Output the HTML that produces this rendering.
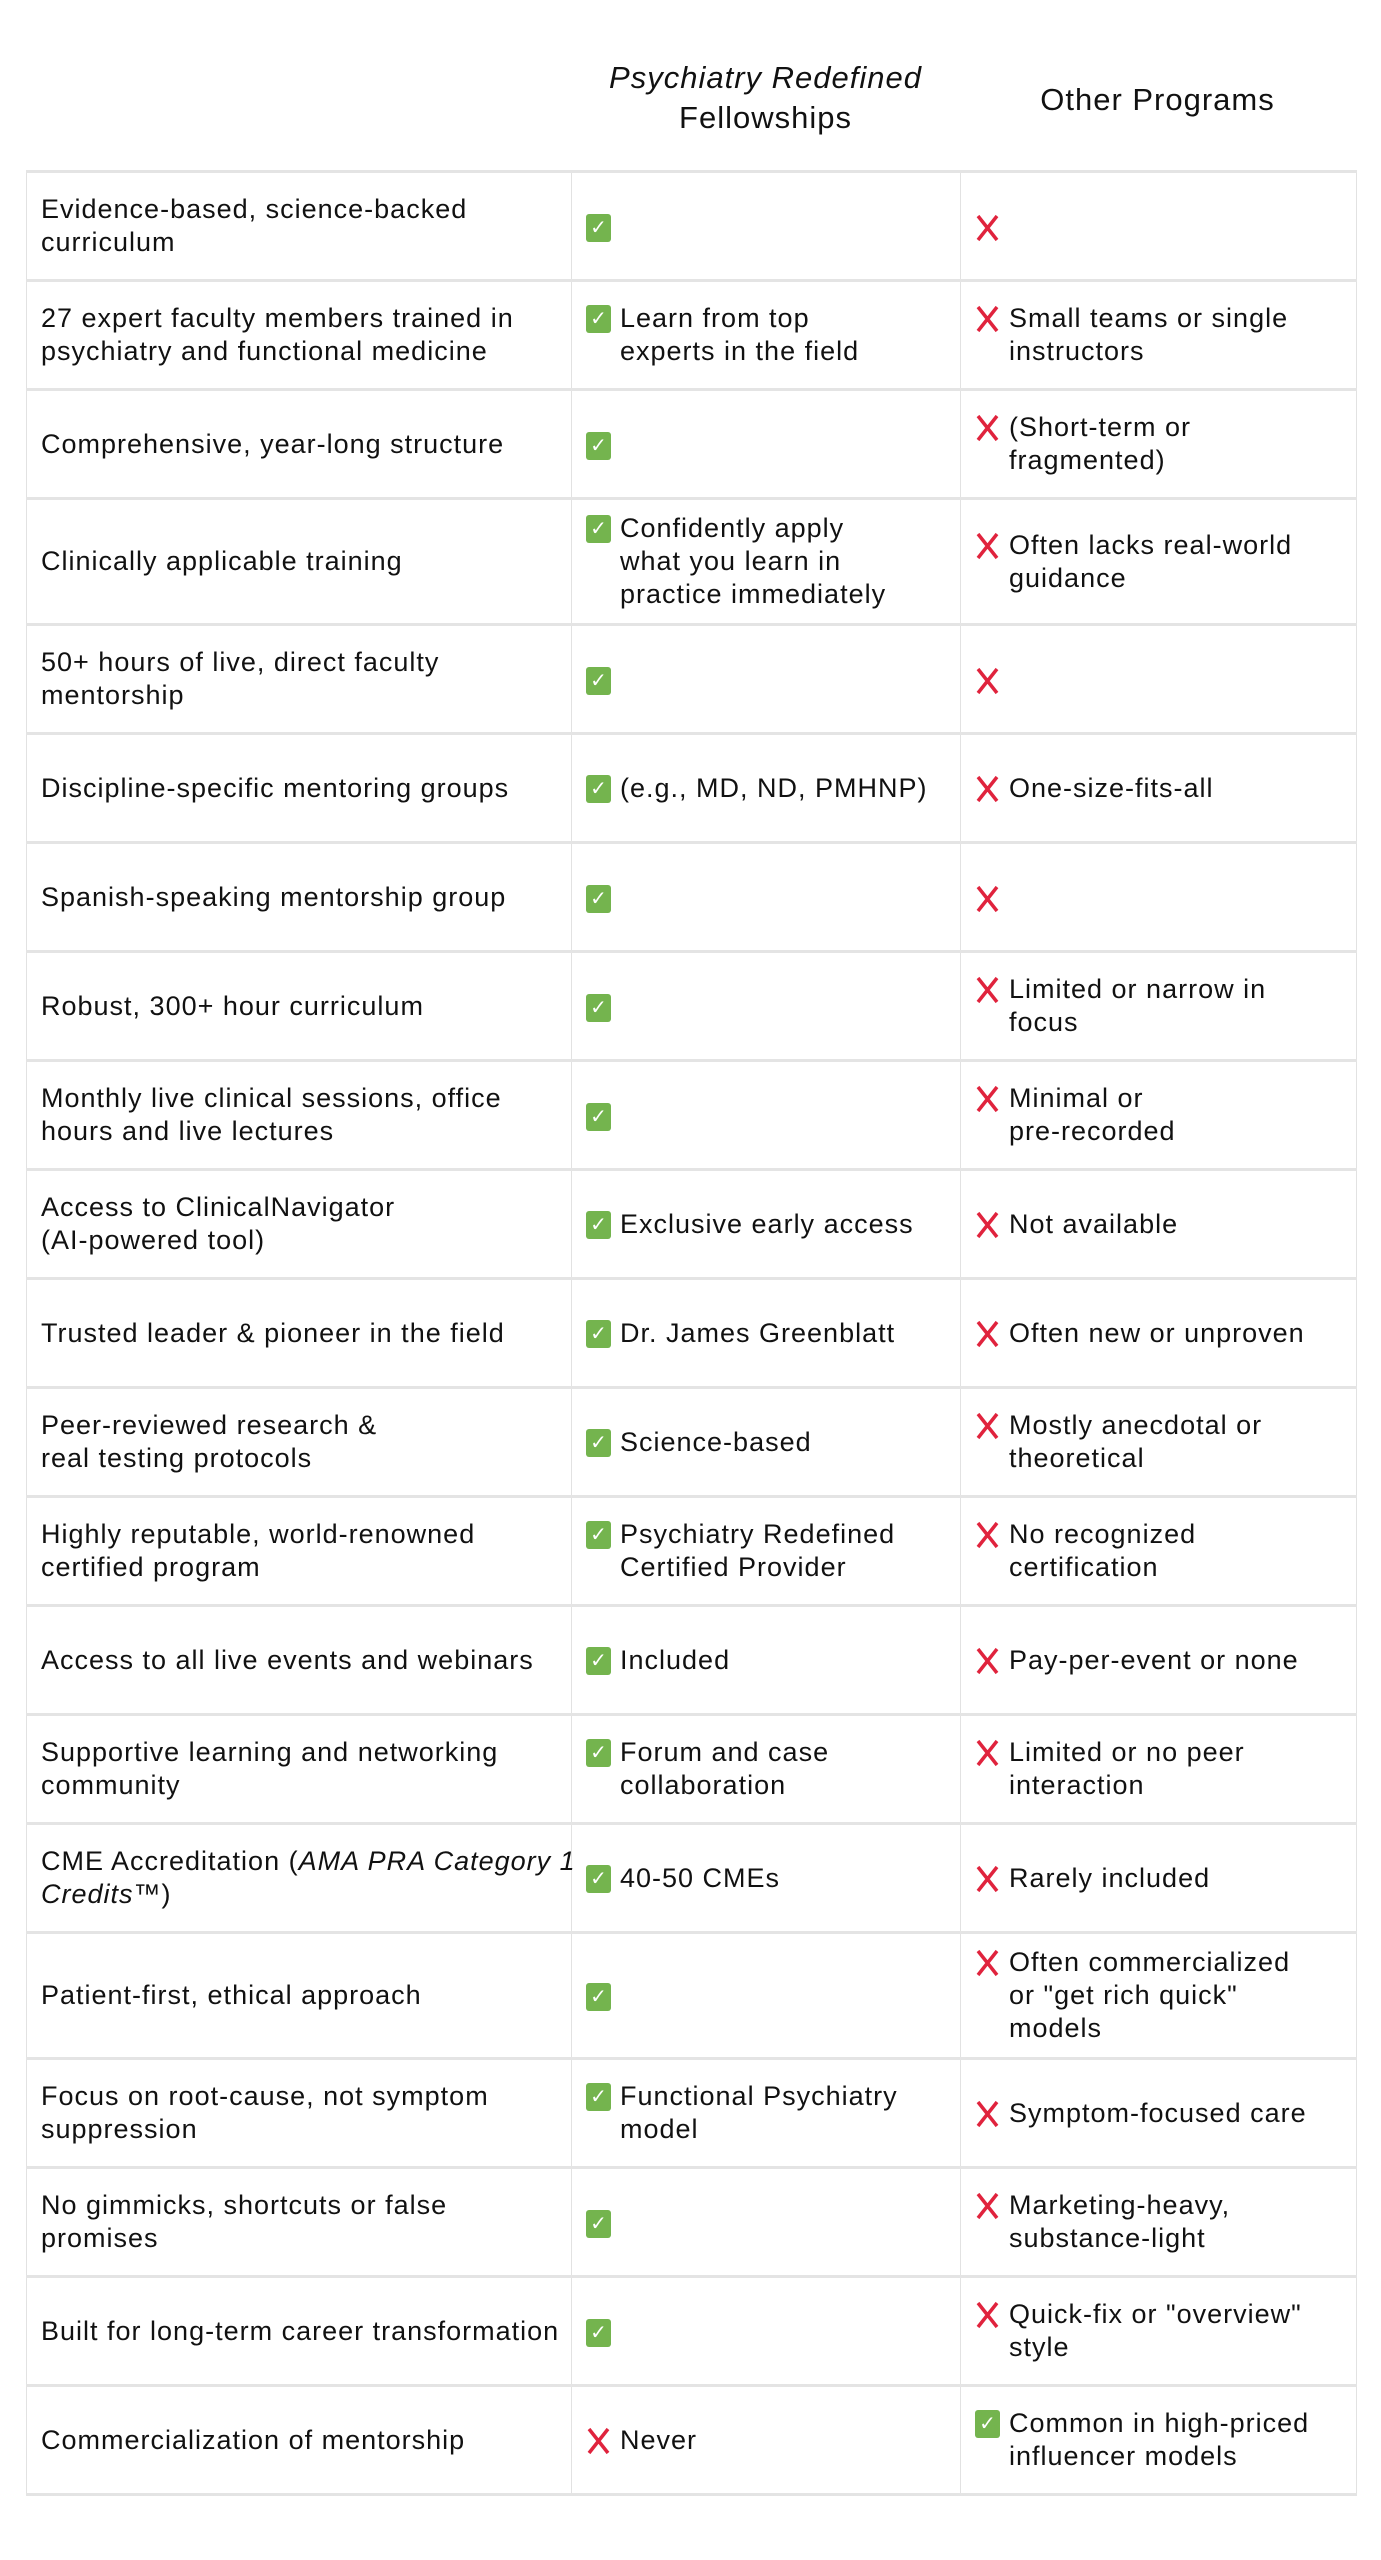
<!DOCTYPE html>
<html><head><meta charset="utf-8"><style>
html,body{margin:0;padding:0;background:#fff;}
body{width:1381px;height:2560px;position:relative;font-family:"Liberation Sans",sans-serif;color:#111;letter-spacing:1px;}
.h{position:absolute;text-align:center;font-size:31px;line-height:40px;}
table{position:absolute;left:26px;top:170px;width:1330px;border-collapse:collapse;table-layout:fixed;}
td{border-left:1px solid #e2e2e2;border-right:1px solid #e2e2e2;border-top:3px solid #e4e4e4;border-bottom:3px solid #e4e4e4;font-size:27px;line-height:33px;vertical-align:middle;padding:0 8px 0 14px;height:106px;white-space:nowrap;}
tr.t td{height:123px;}
.c{display:flex;align-items:flex-start;}
.i{flex:0 0 34px;padding-top:3px;line-height:0;}
.ck{display:inline-block;width:25px;height:28px;background:#74b44e;border-radius:3px;color:#fff;font-size:20px;line-height:28px;text-align:center;letter-spacing:0;}
.x{display:inline-block;width:25px;height:28px;vertical-align:top;}
i{font-style:italic;}
</style></head><body>
<svg width="0" height="0" style="position:absolute"><defs><symbol id="x" viewBox="0 0 25 28"><path d="M3 2L22 26M22 2L3 26" stroke="#e0233d" stroke-width="3.5" fill="none"/></symbol></defs></svg>
<div class="h" style="left:571px;width:389px;top:58px;"><i>Psychiatry Redefined</i><br>Fellowships</div>
<div class="h" style="left:960px;width:395px;top:80px;">Other Programs</div>
<table>
<colgroup><col style="width:545px"><col style="width:389px"><col style="width:396px"></colgroup>
<tr><td>Evidence-based, science-backed<br>curriculum</td><td><div class="c"><span class="i"><span class="ck">✓</span></span></div></td><td><div class="c"><span class="i"><svg class="x"><use href="#x"/></svg></span></div></td></tr>
<tr><td>27 expert faculty members trained in<br>psychiatry and functional medicine</td><td><div class="c"><span class="i"><span class="ck">✓</span></span><span>Learn from top<br>experts in the field</span></div></td><td><div class="c"><span class="i"><svg class="x"><use href="#x"/></svg></span><span>Small teams or single<br>instructors</span></div></td></tr>
<tr><td>Comprehensive, year-long structure</td><td><div class="c"><span class="i"><span class="ck">✓</span></span></div></td><td><div class="c"><span class="i"><svg class="x"><use href="#x"/></svg></span><span>(Short-term or<br>fragmented)</span></div></td></tr>
<tr class="t"><td>Clinically applicable training</td><td><div class="c"><span class="i"><span class="ck">✓</span></span><span>Confidently apply<br>what you learn in<br>practice immediately</span></div></td><td><div class="c"><span class="i"><svg class="x"><use href="#x"/></svg></span><span>Often lacks real-world<br>guidance</span></div></td></tr>
<tr><td>50+ hours of live, direct faculty<br>mentorship</td><td><div class="c"><span class="i"><span class="ck">✓</span></span></div></td><td><div class="c"><span class="i"><svg class="x"><use href="#x"/></svg></span></div></td></tr>
<tr><td>Discipline-specific mentoring groups</td><td><div class="c"><span class="i"><span class="ck">✓</span></span><span>(e.g., MD, ND, PMHNP)</span></div></td><td><div class="c"><span class="i"><svg class="x"><use href="#x"/></svg></span><span>One-size-fits-all</span></div></td></tr>
<tr><td>Spanish-speaking mentorship group</td><td><div class="c"><span class="i"><span class="ck">✓</span></span></div></td><td><div class="c"><span class="i"><svg class="x"><use href="#x"/></svg></span></div></td></tr>
<tr><td>Robust, 300+ hour curriculum</td><td><div class="c"><span class="i"><span class="ck">✓</span></span></div></td><td><div class="c"><span class="i"><svg class="x"><use href="#x"/></svg></span><span>Limited or narrow in<br>focus</span></div></td></tr>
<tr><td>Monthly live clinical sessions, office<br>hours and live lectures</td><td><div class="c"><span class="i"><span class="ck">✓</span></span></div></td><td><div class="c"><span class="i"><svg class="x"><use href="#x"/></svg></span><span>Minimal or<br>pre-recorded</span></div></td></tr>
<tr><td>Access to ClinicalNavigator<br>(AI-powered tool)</td><td><div class="c"><span class="i"><span class="ck">✓</span></span><span>Exclusive early access</span></div></td><td><div class="c"><span class="i"><svg class="x"><use href="#x"/></svg></span><span>Not available</span></div></td></tr>
<tr><td>Trusted leader &amp; pioneer in the field</td><td><div class="c"><span class="i"><span class="ck">✓</span></span><span>Dr. James Greenblatt</span></div></td><td><div class="c"><span class="i"><svg class="x"><use href="#x"/></svg></span><span>Often new or unproven</span></div></td></tr>
<tr><td>Peer-reviewed research &amp;<br>real testing protocols</td><td><div class="c"><span class="i"><span class="ck">✓</span></span><span>Science-based</span></div></td><td><div class="c"><span class="i"><svg class="x"><use href="#x"/></svg></span><span>Mostly anecdotal or<br>theoretical</span></div></td></tr>
<tr><td>Highly reputable, world-renowned<br>certified program</td><td><div class="c"><span class="i"><span class="ck">✓</span></span><span>Psychiatry Redefined<br>Certified Provider</span></div></td><td><div class="c"><span class="i"><svg class="x"><use href="#x"/></svg></span><span>No recognized<br>certification</span></div></td></tr>
<tr><td>Access to all live events and webinars</td><td><div class="c"><span class="i"><span class="ck">✓</span></span><span>Included</span></div></td><td><div class="c"><span class="i"><svg class="x"><use href="#x"/></svg></span><span>Pay-per-event or none</span></div></td></tr>
<tr><td>Supportive learning and networking<br>community</td><td><div class="c"><span class="i"><span class="ck">✓</span></span><span>Forum and case<br>collaboration</span></div></td><td><div class="c"><span class="i"><svg class="x"><use href="#x"/></svg></span><span>Limited or no peer<br>interaction</span></div></td></tr>
<tr><td>CME Accreditation (<i>AMA PRA Category 1</i><br><i>Credits</i>™)</td><td><div class="c"><span class="i"><span class="ck">✓</span></span><span>40-50 CMEs</span></div></td><td><div class="c"><span class="i"><svg class="x"><use href="#x"/></svg></span><span>Rarely included</span></div></td></tr>
<tr class="t"><td>Patient-first, ethical approach</td><td><div class="c"><span class="i"><span class="ck">✓</span></span></div></td><td><div class="c"><span class="i"><svg class="x"><use href="#x"/></svg></span><span>Often commercialized<br>or "get rich quick"<br>models</span></div></td></tr>
<tr><td>Focus on root-cause, not symptom<br>suppression</td><td><div class="c"><span class="i"><span class="ck">✓</span></span><span>Functional Psychiatry<br>model</span></div></td><td><div class="c"><span class="i"><svg class="x"><use href="#x"/></svg></span><span>Symptom-focused care</span></div></td></tr>
<tr><td>No gimmicks, shortcuts or false<br>promises</td><td><div class="c"><span class="i"><span class="ck">✓</span></span></div></td><td><div class="c"><span class="i"><svg class="x"><use href="#x"/></svg></span><span>Marketing-heavy,<br>substance-light</span></div></td></tr>
<tr><td>Built for long-term career transformation</td><td><div class="c"><span class="i"><span class="ck">✓</span></span></div></td><td><div class="c"><span class="i"><svg class="x"><use href="#x"/></svg></span><span>Quick-fix or "overview"<br>style</span></div></td></tr>
<tr><td>Commercialization of mentorship</td><td><div class="c"><span class="i"><svg class="x"><use href="#x"/></svg></span><span>Never</span></div></td><td><div class="c"><span class="i"><span class="ck">✓</span></span><span>Common in high-priced<br>influencer models</span></div></td></tr>
</table>
</body></html>
